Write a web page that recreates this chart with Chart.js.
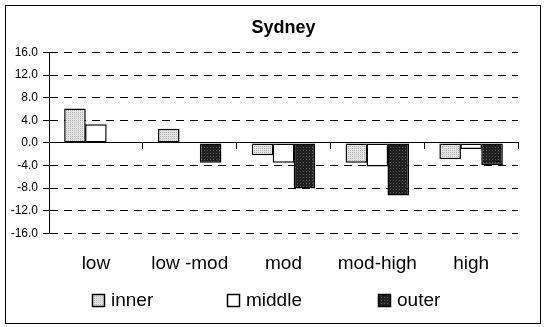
<!DOCTYPE html>
<html><head><meta charset="utf-8">
<script src="https://cdn.jsdelivr.net/npm/chart.js@4/dist/chart.umd.min.js"></script>
<style>html,body{margin:0;padding:0;background:#fff}#wrap{width:545px;height:327px}</style>
</head><body><div id="wrap"><canvas id="c" width="545" height="327"></canvas></div>
<script>
const chartTitle = 'Sydney';
const categories = ['low', 'low -mod', 'mod', 'mod-high', 'high'];
const seriesNames = ['inner', 'middle', 'outer'];
const innerValues = [6.1, 2.5, -2.2, -3.5, -2.9];
const middleValues = [3.3, null, -3.5, -4.2, -1.1];
const outerValues = [null, -3.5, -8.1, -9.3, -3.9];
const yTickValues = [-16, -12, -8, -4, 0, 4, 8, 12, 16];

const FONT = '"Liberation Sans", Arial, Helvetica, sans-serif';
Chart.defaults.font.family = FONT;
Chart.defaults.color = '#000';

const canvas = document.getElementById('c');
const mainCtx = canvas.getContext('2d');
function makePattern(bg, dot, size) {
  const c = document.createElement('canvas');
  c.width = size; c.height = size;
  const x = c.getContext('2d');
  x.fillStyle = bg; x.fillRect(0, 0, size, size);
  x.fillStyle = dot; x.fillRect(0, 0, 1, 1);
  return mainCtx.createPattern(c, 'repeat');
}
const fills = [
  makePattern('#e4e4e4', '#b4b4b4', 2),
  '#ffffff',
  makePattern('#202020', '#585858', 3)
];
const seriesValues = [innerValues, middleValues, outerValues];

const framePlugin = {
  id: 'frame',
  beforeDraw(chart) {
    const c = chart.ctx;
    c.save();
    c.fillStyle = '#fff';
    c.fillRect(0, 0, chart.width, chart.height);
    c.strokeStyle = '#000';
    c.lineWidth = 1;
    c.strokeRect(5.5, 5.5, 535, 318);
    c.restore();
  }
};

const legendBoxX = [92, 227, 378];
const legendPlugin = {
  id: 'customLegend',
  afterDraw(chart) {
    const c = chart.ctx;
    const yc = 300;
    c.save();
    c.font = '19px ' + FONT;
    c.textBaseline = 'middle';
    c.textAlign = 'left';
    chart.data.datasets.forEach((ds, i) => {
      const x = legendBoxX[i];
      c.fillStyle = ds.backgroundColor;
      c.fillRect(x, yc - 6, 13, 13);
      c.strokeStyle = '#000';
      c.lineWidth = 1.5;
      c.strokeRect(x + 0.5, yc - 5.5, 12, 12);
      c.fillStyle = '#000';
      c.fillText(ds.label, x + 19, yc + 1);
    });
    c.restore();
  }
};

new Chart(canvas, {
  type: 'bar',
  data: {
    labels: categories,
    datasets: seriesNames.map((name, i) => ({
      label: name,
      data: seriesValues[i],
      backgroundColor: fills[i],
      borderColor: '#000',
      borderWidth: 1.5,
      borderSkipped: false,
      categoryPercentage: 0.67,
      barPercentage: 1.03
    }))
  },
  options: {
    responsive: false,
    animation: false,
    devicePixelRatio: 1,
    layout: { padding: { left: 0, right: 27, top: 0, bottom: 33 } },
    plugins: {
      legend: { display: false },
      tooltip: { enabled: false },
      title: {
        display: true,
        fullSize: false,
        text: chartTitle,
        color: '#000',
        font: { family: FONT, size: 18, weight: 'bold' },
        padding: { top: 17, bottom: 14 }
      }
    },
    scales: {
      x: {
        type: 'category',
        position: 'bottom',
        grid: { display: false, drawTicks: false },
        border: { display: false },
        ticks: { color: '#000', font: { size: 19 }, padding: 19, maxRotation: 0, autoSkip: false }
      },
      x2: {
        type: 'category',
        position: { y: 0 },
        offset: true,
        grid: { display: true, offset: true, drawOnChartArea: false, drawTicks: true, tickLength: 6, color: '#000', lineWidth: 1 },
        border: { display: true, color: '#000', width: 1 },
        ticks: { display: false },
        afterFit: s => { s.height = 0; }
      },
      y: {
        position: 'left',
        min: yTickValues[0],
        max: yTickValues[yTickValues.length - 1],
        afterBuildTicks: s => { s.ticks = yTickValues.map(v => ({ value: v })); },
        ticks: {
          color: '#000',
          font: { size: 12 },
          padding: 5,
          callback: v => Number(v).toFixed(1)
        },
        grid: { color: '#000', lineWidth: 1, drawTicks: true, tickLength: 6, tickBorderDash: [] },
        border: {
          display: true, color: '#000', width: 1,
          dash: ctx => (ctx.type === 'tick' && ctx.tick && ctx.tick.value !== 0) ? [8, 6] : []
        },
        afterFit: s => { s.width = 49; }
      }
    }
  },
  plugins: [framePlugin, legendPlugin]
});
</script>
</body></html>
